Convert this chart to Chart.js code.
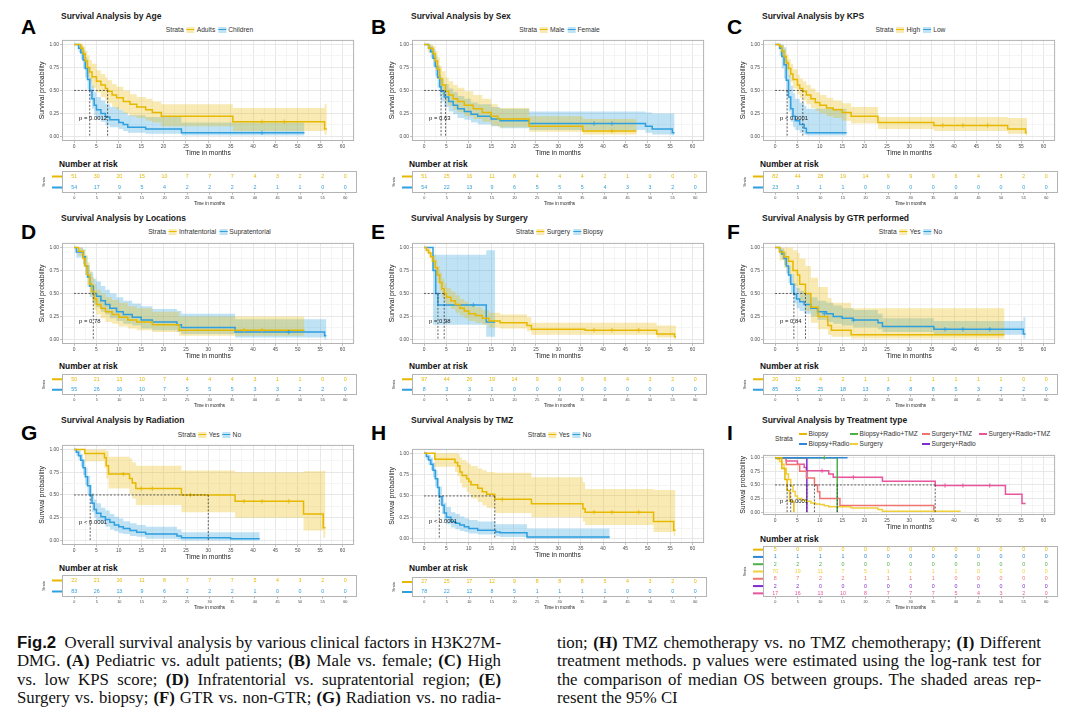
<!DOCTYPE html>
<html lang="en">
<head>
<meta charset="UTF-8">
<title>Fig. 2 – Overall survival analysis in H3K27M-DMG</title>
<script src="https://cdn.jsdelivr.net/npm/chart.js"></script>
<style>
  body { margin: 0; background: #fff; }
  #page { position: relative; width: 1080px; height: 724px; overflow: hidden;
          font-family: 'Liberation Sans', Arial, sans-serif; color: #222; }
  .abs { position: absolute; white-space: nowrap; }
  .letter { font-weight: bold; font-size: 21px; line-height: 22px; color: #000; }
  .ptitle { font-weight: bold; font-size: 8.5px; line-height: 10px; color: #1a1a1a; }
  .legend { font-size: 6.7px; line-height: 9px; color: #333; transform: translateX(-50%); }
  .key { display: inline-block; position: relative; width: 8px; height: 6px; vertical-align: -1px; margin: 0 2px 0 3px; }
  .key i { position: absolute; left: 0; right: 0; top: 2.3px; height: 1.5px; }
  .nar { font-weight: bold; font-size: 8.4px; line-height: 10px; color: #111; }
  .lgI { font-size: 6.6px; line-height: 10px; color: #333; display: flex; align-items: center; }
  .lgI .grid { display: grid; grid-auto-flow: column; grid-template-rows: 10px 10px;
               grid-template-columns: 51px 72px 57px 80px; }
  .cap { font-family: 'Liberation Serif', 'Times New Roman', serif; font-size: 16.8px; line-height: 18px; color: #111; }
  .cap .fig { font-family: 'Liberation Sans', Arial, sans-serif; font-weight: bold; }
  canvas { position: absolute; }
</style>
</head>
<body>
<div id="page"></div>
<script>
// ---- axis ticks ----
const monthTicks = [0, 5, 10, 15, 20, 25, 30, 35, 40, 45, 50, 55, 60];
const probTicks = [0, 0.25, 0.5, 0.75, 1];

const GOLD = '#E7B800', BLUE = '#2E9FDF';

// ---- A: age ----
const ageAdT  = [0, 1.5, 2, 2.5, 3, 3.5, 4, 5, 6, 7, 7.5, 8.5, 9.5, 11, 12.5, 14, 16, 17.5, 19.5, 35.5, 56, 56.5];
const ageAdS  = [1, 0.96, 0.9, 0.82, 0.75, 0.7, 0.65, 0.6, 0.56, 0.52, 0.49, 0.45, 0.42, 0.38, 0.35, 0.32, 0.29, 0.26, 0.22, 0.16, 0.08, 0.08];
const ageAdLo = [1, 0.91, 0.83, 0.73, 0.65, 0.59, 0.53, 0.48, 0.43, 0.39, 0.36, 0.32, 0.29, 0.25, 0.22, 0.2, 0.17, 0.15, 0.11, 0.06, 0.02, 0.02];
const ageAdHi = [1, 1, 0.98, 0.93, 0.88, 0.83, 0.79, 0.72, 0.68, 0.64, 0.61, 0.57, 0.54, 0.5, 0.46, 0.43, 0.41, 0.38, 0.35, 0.31, 0.35, 0.35];
const ageChT  = [0, 1, 1.5, 2, 2.5, 3, 3.5, 4, 4.5, 5, 6, 7, 8, 10, 11, 12, 16, 24, 51.5];
const ageChS  = [1, 0.96, 0.91, 0.83, 0.74, 0.62, 0.5, 0.41, 0.34, 0.29, 0.25, 0.21, 0.18, 0.15, 0.13, 0.1, 0.08, 0.04, 0.04];
const ageChLo = [1, 0.91, 0.84, 0.74, 0.64, 0.51, 0.39, 0.3, 0.23, 0.19, 0.16, 0.12, 0.1, 0.08, 0.06, 0.04, 0.03, 0.01, 0.01];
const ageChHi = [1, 1, 0.99, 0.94, 0.86, 0.75, 0.64, 0.55, 0.48, 0.43, 0.39, 0.35, 0.32, 0.29, 0.26, 0.23, 0.21, 0.15, 0.15];
const ageAdCens = [[42, 0.16], [47, 0.16]];
const ageChCens = [[42, 0.04]];
const ageAdRisk = [51, 30, 20, 15, 10, 7, 7, 7, 4, 3, 2, 2, 0];
const ageChRisk = [54, 17, 9, 5, 4, 2, 2, 2, 2, 1, 1, 0, 0];
const ageMedians = [3.5, 7.5];

// ---- B: sex ----
const sexMT  = [0, 1, 2, 2.5, 3, 3.5, 4, 4.8, 5.5, 6.5, 7.5, 9, 11, 13, 15, 16.5, 23.5, 35.5, 47.5];
const sexMS  = [1, 0.96, 0.9, 0.82, 0.73, 0.63, 0.56, 0.49, 0.45, 0.41, 0.38, 0.34, 0.3, 0.26, 0.22, 0.19, 0.11, 0.06, 0.06];
const sexMLo = [1, 0.91, 0.83, 0.73, 0.63, 0.52, 0.45, 0.37, 0.33, 0.29, 0.26, 0.22, 0.19, 0.16, 0.12, 0.1, 0.05, 0.02, 0.02];
const sexMHi = [1, 1, 0.98, 0.93, 0.86, 0.77, 0.71, 0.64, 0.6, 0.56, 0.53, 0.49, 0.45, 0.41, 0.35, 0.31, 0.22, 0.19, 0.19];
const sexFT  = [0, 1, 1.5, 2, 2.5, 3, 3.5, 3.8, 4.5, 5.5, 6.5, 7.5, 9, 10.5, 12, 15, 17, 23.5, 49.5, 51, 55.5, 56];
const sexFS  = [1, 0.96, 0.92, 0.85, 0.76, 0.64, 0.54, 0.49, 0.43, 0.38, 0.34, 0.3, 0.27, 0.24, 0.22, 0.19, 0.17, 0.14, 0.11, 0.08, 0.04, 0.04];
const sexFLo = [1, 0.91, 0.85, 0.76, 0.66, 0.53, 0.43, 0.38, 0.32, 0.27, 0.24, 0.2, 0.18, 0.15, 0.13, 0.11, 0.09, 0.07, 0.04, 0.02, 0.01, 0.01];
const sexFHi = [1, 1, 0.99, 0.95, 0.88, 0.77, 0.68, 0.63, 0.57, 0.52, 0.48, 0.44, 0.41, 0.37, 0.35, 0.32, 0.3, 0.27, 0.26, 0.25, 0.25, 0.25];
const sexMCens = [[42, 0.06]];
const sexFCens = [[38, 0.14], [42, 0.14]];
const sexMRisk = [51, 25, 16, 11, 8, 4, 4, 4, 2, 1, 0, 0, 0];
const sexFRisk = [54, 22, 13, 9, 6, 5, 5, 5, 4, 3, 3, 2, 0];
const sexMedians = [3.8, 4.8];

// ---- C: KPS ----
const kpsHT  = [0, 1, 1.5, 2, 2.5, 3, 3.5, 4, 5, 5.5, 6.2, 7, 8, 9, 10, 11.5, 13, 15, 17, 23, 35.5, 52, 56, 56.3];
const kpsHS  = [1, 0.98, 0.93, 0.87, 0.8, 0.74, 0.68, 0.62, 0.56, 0.52, 0.49, 0.45, 0.41, 0.37, 0.34, 0.31, 0.29, 0.26, 0.22, 0.15, 0.12, 0.08, 0.04, 0.04];
const kpsHLo = [1, 0.95, 0.88, 0.8, 0.72, 0.65, 0.59, 0.52, 0.46, 0.42, 0.39, 0.35, 0.31, 0.28, 0.25, 0.22, 0.2, 0.17, 0.14, 0.08, 0.06, 0.03, 0.01, 0.01];
const kpsHHi = [1, 1, 0.99, 0.95, 0.89, 0.84, 0.79, 0.73, 0.67, 0.63, 0.6, 0.56, 0.52, 0.48, 0.45, 0.42, 0.39, 0.36, 0.32, 0.21, 0.21, 0.2, 0.2, 0.2];
const kpsLT  = [0, 1, 1.5, 2, 2.5, 3, 3.5, 4, 4.5, 5.5, 6.5, 7, 16];
const kpsLS  = [1, 0.96, 0.87, 0.78, 0.61, 0.43, 0.3, 0.22, 0.17, 0.13, 0.09, 0.04, 0.04];
const kpsLLo = [1, 0.88, 0.74, 0.63, 0.44, 0.27, 0.16, 0.1, 0.07, 0.04, 0.02, 0.01, 0.01];
const kpsLHi = [1, 1, 1, 0.97, 0.83, 0.67, 0.55, 0.47, 0.41, 0.37, 0.33, 0.3, 0.3];
const kpsHCens = [[37.5, 0.12], [42, 0.12], [47.5, 0.12]];
const kpsHRisk = [82, 44, 28, 19, 14, 9, 9, 9, 6, 4, 3, 2, 0];
const kpsLRisk = [23, 3, 1, 1, 0, 0, 0, 0, 0, 0, 0, 0, 0];
const kpsMedians = [2.7, 6.2];

// ---- D: location ----
const locIT  = [0, 1, 2, 2.5, 3, 3.5, 4, 4.5, 5, 6, 7, 8.5, 10, 12, 14, 17.5, 23.5, 51.5];
const locIS  = [1, 0.96, 0.88, 0.8, 0.7, 0.6, 0.52, 0.44, 0.38, 0.34, 0.3, 0.27, 0.24, 0.21, 0.19, 0.16, 0.1, 0.1];
const locILo = [1, 0.91, 0.8, 0.7, 0.59, 0.48, 0.4, 0.32, 0.27, 0.23, 0.19, 0.17, 0.14, 0.12, 0.1, 0.08, 0.04, 0.02];
const locIHi = [1, 1, 0.97, 0.92, 0.84, 0.75, 0.68, 0.6, 0.54, 0.5, 0.46, 0.43, 0.4, 0.36, 0.34, 0.3, 0.25, 0.25];
const locST  = [0, 0.5, 2, 2.5, 3, 3.5, 4.3, 5, 6, 7, 8, 9.5, 11, 13, 15, 17.5, 23, 24, 36, 56, 56.4];
const locSS  = [1, 0.95, 0.9, 0.8, 0.68, 0.58, 0.5, 0.47, 0.42, 0.38, 0.34, 0.3, 0.27, 0.24, 0.21, 0.19, 0.16, 0.13, 0.08, 0.04, 0.04];
const locSLo = [1, 0.89, 0.82, 0.7, 0.57, 0.46, 0.38, 0.35, 0.3, 0.27, 0.23, 0.2, 0.17, 0.15, 0.12, 0.1, 0.08, 0.06, 0.02, 0.0, 0.0];
const locSHi = [1, 1, 0.98, 0.91, 0.81, 0.73, 0.66, 0.63, 0.58, 0.54, 0.5, 0.46, 0.42, 0.39, 0.36, 0.33, 0.31, 0.28, 0.22, 0.22, 0.22];
const locICens = [[38, 0.1], [42, 0.1]];
const locSCens = [[48, 0.08]];
const locIRisk = [50, 21, 13, 10, 7, 4, 4, 4, 3, 1, 1, 0, 0];
const locSRisk = [55, 26, 16, 10, 7, 5, 5, 5, 3, 3, 2, 2, 0];
const locMedians = [4.3];

// ---- E: surgery ----
const surST  = [0, 0.5, 1, 1.5, 2, 2.5, 3, 3.5, 4, 4.5, 5, 6, 7, 8, 9, 10, 11.5, 13, 14.5, 17, 23, 24, 36, 52, 56, 56.3];
const surSS  = [1, 0.97, 0.94, 0.9, 0.85, 0.78, 0.7, 0.62, 0.55, 0.5, 0.46, 0.42, 0.38, 0.34, 0.31, 0.28, 0.26, 0.23, 0.2, 0.18, 0.15, 0.11, 0.1, 0.06, 0.03, 0.03];
const surSLo = [1, 0.94, 0.89, 0.84, 0.78, 0.7, 0.61, 0.53, 0.46, 0.41, 0.37, 0.33, 0.29, 0.26, 0.23, 0.2, 0.18, 0.16, 0.13, 0.12, 0.09, 0.05, 0.05, 0.02, 0.0, 0.0];
const surSHi = [1, 1, 0.99, 0.96, 0.92, 0.87, 0.8, 0.73, 0.66, 0.61, 0.56, 0.52, 0.48, 0.44, 0.41, 0.38, 0.35, 0.32, 0.29, 0.27, 0.24, 0.18, 0.18, 0.15, 0.15, 0.15];
const surBT  = [0, 2, 2.6, 3.1, 13.9, 15.9];
const surBS  = [1, 0.75, 0.5, 0.375, 0.19, 0.19];
const surBLo = [1, 0.16, 0.16, 0.16, 0.03, 0.03];
const surBHi = [1, 0.92, 0.92, 0.92, 0.97, 0.97];
const surSCens = [[38, 0.1], [42, 0.1], [48, 0.1]];
const surBCens = [[11, 0.375]];
const surSRisk = [97, 44, 26, 19, 14, 9, 9, 9, 6, 4, 3, 2, 0];
const surBRisk = [8, 3, 3, 1, 0, 0, 0, 0, 0, 0, 0, 0, 0];
const surMedians = [3.1, 4.5];

// ---- F: GTR ----
const gtrYT  = [0, 1, 2, 3, 4, 5, 5.5, 6.8, 8, 9.6, 11.8, 12.6, 17, 51.3];
const gtrYS  = [1, 0.95, 0.9, 0.85, 0.75, 0.7, 0.6, 0.5, 0.35, 0.25, 0.15, 0.1, 0.05, 0.05];
const gtrYLo = [1, 0.86, 0.78, 0.71, 0.58, 0.52, 0.41, 0.31, 0.18, 0.11, 0.05, 0.03, 0.01, 0.01];
const gtrYHi = [1, 1, 1, 1, 0.97, 0.94, 0.88, 0.8, 0.67, 0.57, 0.45, 0.4, 0.34, 0.34];
const gtrNT  = [0, 1, 1.5, 2, 2.5, 3, 3.5, 4.2, 4.8, 5.5, 6.5, 8, 9.5, 11.5, 13, 15, 17.5, 23, 24, 35.5, 55.5, 56];
const gtrNS  = [1, 0.96, 0.93, 0.88, 0.8, 0.7, 0.6, 0.49, 0.44, 0.41, 0.38, 0.34, 0.3, 0.28, 0.25, 0.23, 0.21, 0.18, 0.14, 0.11, 0.06, 0.06];
const gtrNLo = [1, 0.92, 0.87, 0.81, 0.72, 0.61, 0.5, 0.39, 0.34, 0.31, 0.28, 0.25, 0.21, 0.19, 0.17, 0.15, 0.13, 0.11, 0.08, 0.05, 0.01, 0.01];
const gtrNHi = [1, 1, 0.99, 0.95, 0.89, 0.8, 0.71, 0.61, 0.56, 0.53, 0.5, 0.46, 0.42, 0.4, 0.37, 0.34, 0.32, 0.28, 0.23, 0.2, 0.24, 0.24];
const gtrNCens = [[11, 0.28], [17.5, 0.21], [38, 0.11], [42, 0.11], [48, 0.11]];
const gtrYRisk = [20, 12, 4, 2, 1, 1, 1, 1, 1, 1, 1, 0, 0];
const gtrNRisk = [85, 35, 25, 18, 13, 8, 8, 8, 5, 3, 2, 2, 0];
const gtrMedians = [4.2, 6.8];

// ---- G: radiation ----
const radYT  = [0, 2.4, 6.8, 7.2, 7.7, 12.4, 13, 13.8, 24, 36, 51.3, 55.7, 56.2];
const radYS  = [1, 0.955, 0.91, 0.82, 0.73, 0.68, 0.63, 0.57, 0.5, 0.43, 0.29, 0.14, 0.14];
const radYLo = [1, 0.87, 0.8, 0.68, 0.57, 0.51, 0.46, 0.39, 0.31, 0.25, 0.11, 0.03, 0.03];
const radYHi = [1, 1, 1, 0.98, 0.92, 0.9, 0.86, 0.82, 0.77, 0.75, 0.76, 0.77, 0.77];
const radNT  = [0, 0.5, 1, 1.5, 2, 2.5, 3, 3.6, 4, 4.5, 5, 6, 7, 8, 9, 10, 11, 12.5, 14, 16, 23, 24, 35, 41.5];
const radNS  = [1, 0.97, 0.93, 0.88, 0.8, 0.7, 0.6, 0.5, 0.41, 0.34, 0.3, 0.26, 0.23, 0.2, 0.17, 0.15, 0.13, 0.11, 0.09, 0.07, 0.05, 0.03, 0.02, 0.02];
const radNLo = [1, 0.93, 0.88, 0.81, 0.72, 0.61, 0.5, 0.4, 0.31, 0.25, 0.21, 0.18, 0.15, 0.12, 0.1, 0.08, 0.07, 0.05, 0.04, 0.02, 0.01, 0.0, 0.0, 0.0];
const radNHi = [1, 1, 0.99, 0.95, 0.89, 0.8, 0.71, 0.61, 0.52, 0.45, 0.41, 0.36, 0.33, 0.29, 0.26, 0.24, 0.21, 0.19, 0.17, 0.15, 0.12, 0.09, 0.09, 0.09];
const radYCens = [[11, 0.73], [15, 0.57], [17.5, 0.57], [26, 0.5], [38, 0.43], [42, 0.43], [48, 0.43]];
const radYRisk = [22, 21, 16, 11, 8, 7, 7, 7, 5, 4, 3, 2, 0];
const radNRisk = [83, 26, 13, 9, 6, 2, 2, 2, 1, 0, 0, 0, 0];
const radMedians = [3.6, 30];

// ---- H: TMZ ----
const tmzYT  = [0, 2.4, 6.9, 7.5, 8, 8.5, 9.5, 10, 10.5, 12, 13, 14, 15.8, 24, 35.5, 36, 51.3, 55.8, 56.2];
const tmzYS  = [1, 0.93, 0.89, 0.85, 0.78, 0.74, 0.7, 0.67, 0.63, 0.59, 0.55, 0.52, 0.46, 0.41, 0.35, 0.31, 0.2, 0.1, 0.1];
const tmzYLo = [1, 0.84, 0.78, 0.73, 0.65, 0.6, 0.55, 0.52, 0.47, 0.43, 0.39, 0.36, 0.3, 0.25, 0.2, 0.16, 0.08, 0.03, 0.03];
const tmzYHi = [1, 1, 1, 0.99, 0.95, 0.92, 0.89, 0.87, 0.85, 0.82, 0.8, 0.78, 0.77, 0.72, 0.66, 0.58, 0.57, 0.57, 0.57];
const tmzNT  = [0, 0.5, 1, 1.5, 2, 2.5, 3, 3.4, 4, 4.5, 5, 6, 7, 8, 9, 10, 12, 16, 17, 23, 41.5];
const tmzNS  = [1, 0.96, 0.92, 0.87, 0.8, 0.7, 0.6, 0.49, 0.39, 0.3, 0.25, 0.2, 0.18, 0.16, 0.14, 0.12, 0.1, 0.08, 0.07, 0.02, 0.02];
const tmzNLo = [1, 0.92, 0.86, 0.8, 0.72, 0.61, 0.5, 0.39, 0.29, 0.21, 0.17, 0.13, 0.11, 0.09, 0.08, 0.06, 0.05, 0.03, 0.02, 0.0, 0.0];
const tmzNHi = [1, 1, 0.98, 0.95, 0.89, 0.8, 0.71, 0.61, 0.51, 0.42, 0.37, 0.31, 0.29, 0.26, 0.24, 0.22, 0.2, 0.17, 0.17, 0.12, 0.12];
const tmzYCens = [[17.5, 0.46], [38, 0.31], [42, 0.31], [48, 0.31]];
const tmzYRisk = [27, 25, 17, 12, 9, 8, 8, 8, 5, 4, 3, 2, 0];
const tmzNRisk = [78, 22, 12, 8, 5, 1, 1, 1, 1, 0, 0, 0, 0];
const tmzMedians = [3.4, 15.8];

// ---- I: treatment type (no confidence bands) ----
const txBT   = [0, 1.5, 2.2, 2.7, 3.3, 4.2];
const txBS   = [1, 0.8, 0.6, 0.4, 0.2, 0];
const txBRT  = [0, 16.2];
const txBRS  = [1, 1];
const txBRTT = [0, 13.9];
const txBRTS = [1, 0];
const txST   = [0, 0.5, 1, 1.5, 2, 2.5, 3, 3.5, 4, 4.5, 5, 6, 7, 8, 9, 10, 11, 12, 17, 23, 24, 41.5];
const txSS   = [1, 0.97, 0.93, 0.88, 0.8, 0.7, 0.6, 0.48, 0.38, 0.3, 0.25, 0.22, 0.2, 0.17, 0.15, 0.14, 0.12, 0.1, 0.08, 0.05, 0.02, 0.02];
const txSTT  = [0, 2.5, 5.5, 7, 8.8, 9.5, 10, 14.5, 35.5];
const txSTS  = [1, 0.875, 0.75, 0.625, 0.5, 0.375, 0.25, 0.125, 0];
const txSRT  = [0, 7.1];
const txSRS  = [1, 0];
const txSRTT = [0, 2.5, 5, 6.5, 7, 12, 13, 24, 35.8, 51.5, 55.2, 56];
const txSRTS = [1, 0.94, 0.88, 0.82, 0.76, 0.7, 0.64, 0.57, 0.49, 0.33, 0.16, 0.16];
const txBRTCens = [[11, 1]];
const txSRTCens = [[10.5, 0.76], [17.5, 0.64], [38, 0.49], [42, 0.49], [48, 0.49]];
const txBRisk   = [5, 0, 0, 0, 0, 0, 0, 0, 0, 0, 0, 0, 0];
const txBRRisk  = [1, 1, 1, 1, 0, 0, 0, 0, 0, 0, 0, 0, 0];
const txBRTRisk = [2, 2, 2, 0, 0, 0, 0, 0, 0, 0, 0, 0, 0];
const txSRisk   = [70, 19, 11, 7, 5, 1, 1, 1, 1, 0, 0, 0, 0];
const txSTRisk  = [8, 7, 2, 2, 1, 1, 1, 1, 0, 0, 0, 0, 0];
const txSRRisk  = [2, 2, 0, 0, 0, 0, 0, 0, 0, 0, 0, 0, 0];
const txSRTRisk = [17, 16, 13, 10, 8, 7, 7, 7, 5, 4, 3, 2, 0];
const txMedians = [2.7, 3.5, 7.1, 8.8, 13.9, 35.8];

// ---- panel setup ----
const XMIN = -2.7, XMAX = 62.6;
const YW = 24, PADR = 2, PADT = 4, XH = 16, RXH = 13;
const COLS = [
  { boxL: 62, boxR: 357, letterX: 21 },
  { boxL: 412, boxR: 707, letterX: 371 },
  { boxL: 763, boxR: 1058, letterX: 727 }
];
const ROWS = [
  { letterY: 16, titleY: 16, legendY: 29, plotTop: 39, plotBot: 141, narY: 164, tabTop: 171, tabBot: 193 },
  { letterY: 221, titleY: 218, legendY: 231, plotTop: 242, plotBot: 344, narY: 366, tabTop: 374, tabBot: 395 },
  { letterY: 422, titleY: 420, legendY: 434, plotTop: 444, plotBot: 545, narY: 568, tabTop: 575, tabBot: 597 }
];

const st = (name, color, t, s, lo, hi, cens, risk) => ({ name, color, t, s, lo, hi, cens, risk });

const panels = [
  { id: 'A', col: 0, row: 0, title: 'Survival Analysis by Age', pval: 'p = 0.0012', medians: ageMedians,
    strata: [st('Adults', GOLD, ageAdT, ageAdS, ageAdLo, ageAdHi, ageAdCens, ageAdRisk),
             st('Children', BLUE, ageChT, ageChS, ageChLo, ageChHi, ageChCens, ageChRisk)] },
  { id: 'B', col: 1, row: 0, title: 'Survival Analysis by Sex', pval: 'p = 0.63', medians: sexMedians,
    strata: [st('Male', GOLD, sexMT, sexMS, sexMLo, sexMHi, sexMCens, sexMRisk),
             st('Female', BLUE, sexFT, sexFS, sexFLo, sexFHi, sexFCens, sexFRisk)] },
  { id: 'C', col: 2, row: 0, title: 'Survival Analysis by KPS', pval: 'p < 0.0001', medians: kpsMedians,
    strata: [st('High', GOLD, kpsHT, kpsHS, kpsHLo, kpsHHi, kpsHCens, kpsHRisk),
             st('Low', BLUE, kpsLT, kpsLS, kpsLLo, kpsLHi, null, kpsLRisk)] },
  { id: 'D', col: 0, row: 1, title: 'Survival Analysis by Locations', pval: 'p = 0.78', medians: locMedians,
    strata: [st('Infratentorial', GOLD, locIT, locIS, locILo, locIHi, locICens, locIRisk),
             st('Supratentorial', BLUE, locST, locSS, locSLo, locSHi, locSCens, locSRisk)] },
  { id: 'E', col: 1, row: 1, title: 'Survival Analysis by Surgery', pval: 'p = 0.98', medians: surMedians,
    strata: [st('Surgery', GOLD, surST, surSS, surSLo, surSHi, surSCens, surSRisk),
             st('Biopsy', BLUE, surBT, surBS, surBLo, surBHi, surBCens, surBRisk)] },
  { id: 'F', col: 2, row: 1, title: 'Survival Analysis by GTR performed', pval: 'p = 0.84', medians: gtrMedians,
    strata: [st('Yes', GOLD, gtrYT, gtrYS, gtrYLo, gtrYHi, null, gtrYRisk),
             st('No', BLUE, gtrNT, gtrNS, gtrNLo, gtrNHi, gtrNCens, gtrNRisk)] },
  { id: 'G', col: 0, row: 2, title: 'Survival Analysis by Radiation', pval: 'p < 0.0001', medians: radMedians,
    strata: [st('Yes', GOLD, radYT, radYS, radYLo, radYHi, radYCens, radYRisk),
             st('No', BLUE, radNT, radNS, radNLo, radNHi, null, radNRisk)] },
  { id: 'H', col: 1, row: 2, title: 'Survival Analysis by TMZ', pval: 'p < 0.0001', medians: tmzMedians,
    geo: { plotTop: 448, plotBot: 543, tabTop: 577 },
    strata: [st('Yes', GOLD, tmzYT, tmzYS, tmzYLo, tmzYHi, tmzYCens, tmzYRisk),
             st('No', BLUE, tmzNT, tmzNS, tmzNLo, tmzNHi, null, tmzNRisk)] },
  { id: 'I', col: 2, row: 2, title: 'Survival Analysis by Treatment type', pval: 'p < 0.0001', medians: txMedians,
    geo: { plotTop: 454, plotBot: 515, narY: 539, tabTop: 546, tabBot: 597 }, multi: true,
    strata: [st('Biopsy', '#E7B800', txBT, txBS, null, null, null, txBRisk),
             st('Biopsy+Radio', '#2E86D6', txBRT, txBRS, null, null, null, txBRRisk),
             st('Biopsy+Radio+TMZ', '#4DB04A', txBRTT, txBRTS, null, null, txBRTCens, txBRTRisk),
             st('Surgery', '#F0CF3A', txST, txSS, null, null, null, txSRisk),
             st('Surgery+TMZ', '#EF7470', txSTT, txSTS, null, null, null, txSTRisk),
             st('Surgery+Radio', '#7E2BD0', txSRT, txSRS, null, null, null, txSRRisk),
             st('Surgery+Radio+TMZ', '#E8559C', txSRTT, txSRTS, null, null, txSRTCens, txSRTRisk)] }
];

Chart.defaults.font.family = "'Liberation Sans', Arial, sans-serif";
const page = document.getElementById('page');

function fade(hex, a) {
  const n = parseInt(hex.slice(1), 16);
  return `rgba(${n >> 16},${(n >> 8) & 255},${n & 255},${a})`;
}
function addDiv(cls, x, y, html) {
  const d = document.createElement('div');
  d.className = 'abs ' + cls;
  d.style.left = x + 'px';
  d.style.top = y + 'px';
  d.innerHTML = html;
  page.appendChild(d);
  return d;
}
function addCanvas(x, y, w, h) {
  const c = document.createElement('canvas');
  c.width = w; c.height = h;
  c.style.left = x + 'px'; c.style.top = y + 'px';
  page.appendChild(c);
  return c;
}
const isMult = (v, step) => Math.abs(v / step - Math.round(v / step)) < 1e-9;

// grey panel border + p value
const plotDecor = {
  id: 'plotDecor',
  beforeDatasetsDraw(chart) {
    const { ctx, chartArea: a } = chart;
    ctx.save();
    ctx.strokeStyle = '#b3b3b3';
    ctx.lineWidth = 1;
    ctx.strokeRect(a.left + 0.5, a.top + 0.5, a.width - 1, a.height - 1);
    ctx.restore();
  },
  afterDatasetsDraw(chart, args, opts) {
    const { ctx, scales } = chart;
    ctx.save();
    ctx.font = "5.9px 'Liberation Sans', Arial, sans-serif";
    ctx.fillStyle = '#222';
    ctx.textBaseline = 'middle';
    ctx.fillText(opts.text, scales.x.getPixelForValue(opts.x), scales.y.getPixelForValue(opts.y));
    ctx.restore();
  }
};

// number-at-risk table contents
const riskDecor = {
  id: 'riskDecor',
  afterDraw(chart, args, opts) {
    const { ctx, chartArea: a, scales } = chart;
    ctx.save();
    ctx.strokeStyle = '#b3b3b3';
    ctx.lineWidth = 1;
    ctx.strokeRect(a.left + 0.5, a.top + 0.5, a.width - 1, a.height - 1);
    ctx.font = "5.3px 'Liberation Sans', Arial, sans-serif";
    ctx.textAlign = 'center';
    ctx.textBaseline = 'middle';
    opts.strata.forEach((s, i) => {
      const y = scales.y.getPixelForValue(i);
      ctx.fillStyle = s.color;
      s.risk.forEach((n, k) => ctx.fillText(String(n), scales.x.getPixelForValue(monthTicks[k]), y));
      ctx.strokeStyle = s.color;
      ctx.lineWidth = 2;
      ctx.beginPath();
      ctx.moveTo(a.left - 10, y);
      ctx.lineTo(a.left, y);
      ctx.stroke();
    });
    ctx.translate(a.left - 18, (a.top + a.bottom) / 2);
    ctx.rotate(-Math.PI / 2);
    ctx.fillStyle = '#333';
    ctx.font = "3.6px 'Liberation Sans', Arial, sans-serif";
    ctx.fillText('Strata', 0, 0);
    ctx.restore();
  }
};

const dashStyle = { borderColor: '#3a3a3a', borderWidth: 0.8, borderDash: [2, 1.6], pointRadius: 0, fill: false, order: 0 };

function buildPlot(p, g) {
  const w = g.boxR - g.boxL + YW + PADR;
  const h = g.plotBot - g.plotTop + PADT + XH;
  const cv = addCanvas(g.boxL - YW, g.plotTop - PADT, w, h);
  const ds = [];
  p.strata.forEach(s => {
    if (!s.hi) return;
    ds.push({ data: s.t.map((x, i) => ({ x, y: s.hi[i] })), stepped: true, fill: '+1',
              backgroundColor: fade(s.color, 0.3), borderWidth: 0, pointRadius: 0, order: 5 });
    ds.push({ data: s.t.map((x, i) => ({ x, y: s.lo[i] })), stepped: true, fill: false,
              borderWidth: 0, pointRadius: 0, order: 5 });
  });
  p.strata.forEach(s => {
    ds.push({ data: s.t.map((x, i) => ({ x, y: s.s[i] })), stepped: true, fill: false,
              borderColor: s.color, borderWidth: 1.5, pointRadius: 0, order: 2 });
    if (s.cens) ds.push({ data: s.cens.map(c => ({ x: c[0], y: c[1] })), showLine: false,
              pointStyle: 'cross', pointRadius: 2.2, borderColor: s.color, borderWidth: 0.9, order: 1 });
  });
  const mMax = Math.max(...p.medians);
  ds.push({ ...dashStyle, data: [{ x: 0, y: 0.5 }, { x: mMax, y: 0.5 }] });
  p.medians.forEach(m => ds.push({ ...dashStyle, data: [{ x: m, y: 0.5 }, { x: m, y: 0 }] }));

  const xGrid = [];
  monthTicks.forEach(v => { xGrid.push(v); if (v < 60) xGrid.push(v + 2.5); });
  const yGrid = [];
  probTicks.forEach(v => { yGrid.push(v); if (v < 1) yGrid.push(v + 0.125); });

  new Chart(cv, {
    type: 'line',
    data: { datasets: ds },
    plugins: [plotDecor],
    options: {
      responsive: false, animation: false, events: [],
      layout: { padding: { left: 0, right: PADR, top: PADT, bottom: 0 } },
      plugins: { legend: { display: false }, tooltip: { enabled: false },
                 plotDecor: { text: p.pval, x: 1.1, y: 0.2 } },
      scales: {
        x: {
          type: 'linear', min: XMIN, max: XMAX,
          afterBuildTicks: s => { s.ticks = xGrid.map(v => ({ value: v })); },
          afterFit: s => { s.height = XH; },
          ticks: { autoSkip: false, maxRotation: 0, padding: 1, color: '#4d4d4d', font: { size: 4.9 },
                   callback: v => (isMult(v, 5) ? String(v) : '') },
          grid: { lineWidth: 0.8, tickLength: 2,
                  color: c => (c.tick && isMult(c.tick.value, 5) ? '#e2e2e2' : '#f2f2f2'),
                  tickColor: c => (c.tick && isMult(c.tick.value, 5) ? '#b3b3b3' : 'rgba(0,0,0,0)') },
          border: { display: false },
          title: { display: true, text: 'Time in months', color: '#222', font: { size: 6.7 }, padding: 0 }
        },
        y: {
          type: 'linear', min: -0.05, max: 1.05,
          afterBuildTicks: s => { s.ticks = yGrid.map(v => ({ value: v })); },
          afterFit: s => { s.width = YW; },
          ticks: { autoSkip: false, padding: 1, color: '#4d4d4d', font: { size: 4.9 },
                   callback: v => (isMult(v, 0.25) ? v.toFixed(2) : '') },
          grid: { lineWidth: 0.8, tickLength: 2,
                  color: c => (c.tick && isMult(c.tick.value, 0.25) ? '#e2e2e2' : '#f2f2f2'),
                  tickColor: c => (c.tick && isMult(c.tick.value, 0.25) ? '#b3b3b3' : 'rgba(0,0,0,0)') },
          border: { display: false },
          title: { display: true, text: 'Survival probability', color: '#222', font: { size: 6.9 }, padding: 0 }
        }
      }
    }
  });
}

function buildRisk(p, g) {
  const w = g.boxR - g.boxL + YW + PADR;
  const h = g.tabBot - g.tabTop + 1 + RXH;
  const cv = addCanvas(g.boxL - YW, g.tabTop - 1, w, h);
  new Chart(cv, {
    type: 'line',
    data: { datasets: [] },
    plugins: [riskDecor],
    options: {
      responsive: false, animation: false, events: [],
      layout: { padding: { left: 0, right: PADR, top: 1, bottom: 0 } },
      plugins: { legend: { display: false }, tooltip: { enabled: false }, riskDecor: { strata: p.strata } },
      scales: {
        x: {
          type: 'linear', min: XMIN, max: XMAX,
          afterBuildTicks: s => { s.ticks = monthTicks.map(v => ({ value: v })); },
          afterFit: s => { s.height = RXH; },
          ticks: { autoSkip: false, maxRotation: 0, padding: 1, color: '#444', font: { size: 3.8 } },
          grid: { drawOnChartArea: false, tickLength: 1.5, color: '#b3b3b3' },
          border: { display: false },
          title: { display: true, text: 'Time in months', color: '#222', font: { size: 4.6 }, padding: 0 }
        },
        y: {
          type: 'category', labels: p.strata.map(s => s.name), offset: true,
          afterFit: s => { s.width = YW; },
          ticks: { display: false },
          grid: { display: false },
          border: { display: false }
        }
      }
    }
  });
}

function legendKey(color, withFill) {
  return `<span class="key" style="background:${withFill ? fade(color, 0.3) : 'transparent'}"><i style="background:${color}"></i></span>`;
}

panels.forEach(p => {
  const c = COLS[p.col];
  const g = Object.assign({}, ROWS[p.row], c, p.geo || {});
  addDiv('letter', c.letterX, g.letterY, p.id);
  addDiv('ptitle', g.boxL - 1, g.titleY - 5, p.title);
  if (p.multi) {
    let items = '';
    p.strata.forEach(s => { items += `<span>${legendKey(s.color, false)}${s.name}</span>`; });
    addDiv('lgI', g.boxL + 12, 429, `<span style="margin-right:3px">Strata</span><div class="grid">${items}</div>`);
  } else {
    let html = 'Strata';
    p.strata.forEach(s => { html += legendKey(s.color, true) + s.name; });
    addDiv('legend', (g.boxL + g.boxR) / 2, g.legendY - 4.5, html);
  }
  buildPlot(p, g);
  addDiv('nar', g.boxL - 3, g.narY - 5, 'Number at risk');
  buildRisk(p, g);
});

// ---- caption, two justified columns ----
const capLeft = [
  '<span class="fig">Fig.2</span>&nbsp; Overall survival analysis by various clinical factors in H3K27M-',
  'DMG. <b>(A)</b> Pediatric vs. adult patients; <b>(B)</b> Male vs. female; <b>(C)</b> High',
  'vs. low KPS score; <b>(D)</b> Infratentorial vs. supratentorial region; <b>(E)</b>',
  'Surgery vs. biopsy; <b>(F)</b> GTR vs. non-GTR; <b>(G)</b> Radiation vs. no radia-'
];
const capRight = [
  'tion; <b>(H)</b> TMZ chemotherapy vs. no TMZ chemotherapy; <b>(I)</b> Different',
  'treatment methods. p values were estimated using the log-rank test for',
  'the comparison of median OS between groups. The shaded areas rep-',
  'resent the 95% CI'
];
const CAP_W = 484;
function captionLine(html, x, y, justify) {
  const d = addDiv('cap', x, y, html);
  if (justify) {
    const gaps = (d.textContent.match(/ /g) || []).length;
    const extra = CAP_W - d.getBoundingClientRect().width;
    if (gaps) d.style.wordSpacing = (extra / gaps) + 'px';
  }
}
capLeft.forEach((t, i) => captionLine(t, 17, 634 + i * 18.3, true));
capRight.forEach((t, i) => captionLine(t, 557, 634 + i * 18.3, i < capRight.length - 1));
</script>
</body>
</html>
